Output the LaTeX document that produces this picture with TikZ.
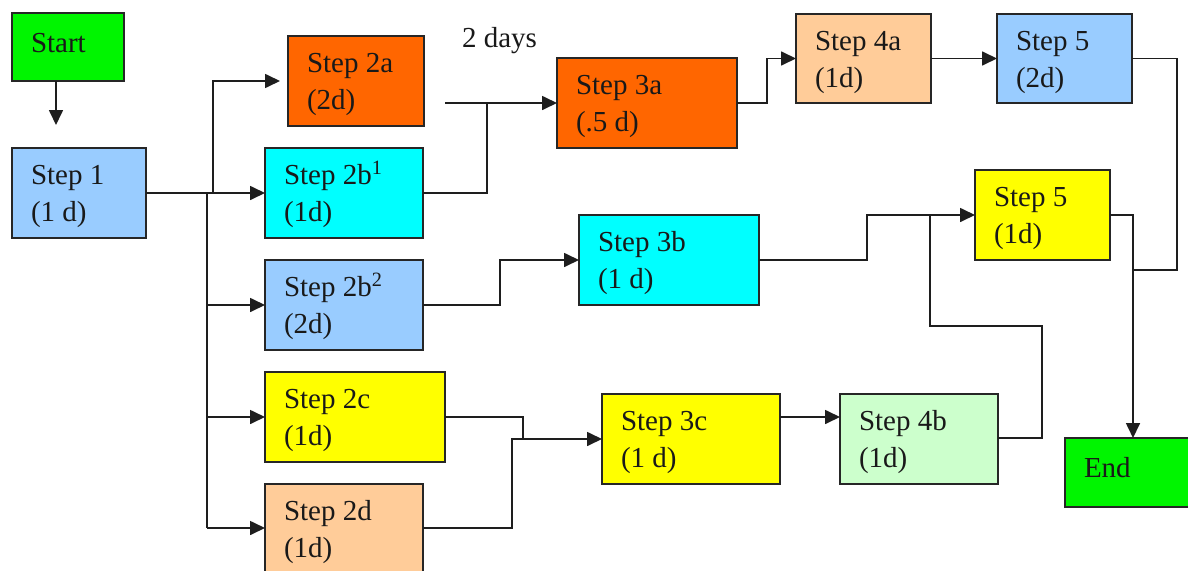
\documentclass[tikz,border=0pt]{standalone}
\usepackage{fontspec}
\setmainfont{Liberation Serif}
\usetikzlibrary{arrows.meta}
\definecolor{cgreen}{RGB}{0,245,0}
\definecolor{cblue}{RGB}{153,204,255}
\definecolor{corange}{RGB}{255,102,0}
\definecolor{ccyan}{RGB}{0,255,255}
\definecolor{cyellow}{RGB}{255,255,0}
\definecolor{cpeach}{RGB}{255,204,153}
\definecolor{cmint}{RGB}{204,255,204}
\definecolor{cline}{RGB}{30,30,30}
\newcommand{\mkbox}[8]{%
  \node[stepbox, fill=#6, minimum width=#4pt, minimum height=#5pt, anchor=north west] (#1) at (#2,#3) {};
  \node[lbl, anchor=base west] (#1t) at ([shift={(19,#8)}]#1.north west) {\begin{tabular}[t]{@{}l@{}}#7\end{tabular}};}
\begin{document}
\begin{tikzpicture}[x=1pt,y=-1pt,
  stepbox/.style={draw=black!85, line width=1.6pt, inner sep=0pt, outer sep=0pt},
  lbl/.style={inner sep=0pt, outer sep=0pt, font=\fontsize{29}{37}\selectfont, text=black!90},
  conn/.style={draw=cline, line width=1.7pt},
  arr/.style={conn, -{Triangle[length=15pt,width=14pt]}}]
\clip (0,0) rectangle (1188,570);
\fill[white] (0,0) rectangle (1188,570);
% boxes
\mkbox{start}{12}{13}{112}{68}{cgreen}{Start}{39}
\mkbox{s1}{12}{148}{134}{90}{cblue}{Step 1\\(1 d)}{36}
\mkbox{s2a}{288}{36}{136}{90}{corange}{Step 2a\\(2d)}{36}
\mkbox{s2ba}{265}{148}{158}{90}{ccyan}{Step 2b\textsuperscript{1}\\(1d)}{36}
\mkbox{s2bb}{265}{260}{158}{90}{cblue}{Step 2b\textsuperscript{2}\\(2d)}{36}
\mkbox{s2c}{265}{372}{180}{90}{cyellow}{Step 2c\\(1d)}{36}
\mkbox{s2d}{265}{484}{158}{92}{cpeach}{Step 2d\\(1d)}{36}
\mkbox{s3a}{557}{58}{180}{90}{corange}{Step 3a\\(.5 d)}{36}
\mkbox{s3b}{579}{215}{180}{90}{ccyan}{Step 3b\\(1 d)}{36}
\mkbox{s3c}{602}{394}{178}{90}{cyellow}{Step 3c\\(1 d)}{36}
\mkbox{s4a}{796}{14}{135}{89}{cpeach}{Step 4a\\(1d)}{36}
\mkbox{s4b}{840}{394}{158}{90}{cmint}{Step 4b\\(1d)}{36}
\mkbox{s5a}{997}{14}{135}{89}{cblue}{Step 5\\(2d)}{36}
\mkbox{s5b}{975}{170}{135}{90}{cyellow}{Step 5\\(1d)}{36}
\mkbox{end}{1065}{438}{130}{69}{cgreen}{End}{39}
\node[lbl, anchor=base west] (days) at (462,47) {2 days};
% junction / free-end coordinates
\coordinate (j1) at (213,193);
\coordinate (j2) at (207,193);
\coordinate (stub) at (445,103);
\coordinate (j3) at (487,103);
\coordinate (j4) at (930,215);
\coordinate (j5) at (1133,215);
% connectors
\draw[arr] ([xshift=-12]start.south) -- ([xshift=-12,yshift=23]start.south |- s1.north);
\draw[arr] (s1.east) -- (s2ba.west);
\draw[arr] (j1) |- ([xshift=-8]s2a.west);
\draw[conn] (j2) -- (207,528);
\draw[arr] (207,305) -- (s2bb.west);
\draw[arr] (207,417) -- (s2c.west);
\draw[arr] (207,528) -- (s2d.west |- 0,528);
\draw[conn] (s2ba.east) -| (j3);
\draw[arr] (stub) -- (s3a.west);
\draw[arr] (s3a.east) -- (767,103) |- (s4a.west);
\draw[arr] (s4a.west -| s4a.east) -- (s5a.west);
\draw[conn] (s5a.east) -- (1177,58.5) -- (1177,270) -- (1133,270);
\draw[arr] (s5b.east) -- (j5) -- (j5 |- end.north);
\draw[arr] (s2bb.east) -- (500,305) |- (s3b.west);
\draw[arr] (s3b.east) -- (867,260) |- (s5b.west);
\draw[conn] (j4) -- (930,326) -- (1042,326) -- (1042,438) -- (s4b.east |- 0,438);
\draw[arr] (s3c.east |- 0,417) -- (s4b.west |- 0,417);
\draw[conn] (s2c.east |- 0,417) -- (523,417) -- (523,438);
\draw[arr] (s2d.east |- 0,528) -- (512,528) |- (s3c.west);
\end{tikzpicture}
\end{document}
